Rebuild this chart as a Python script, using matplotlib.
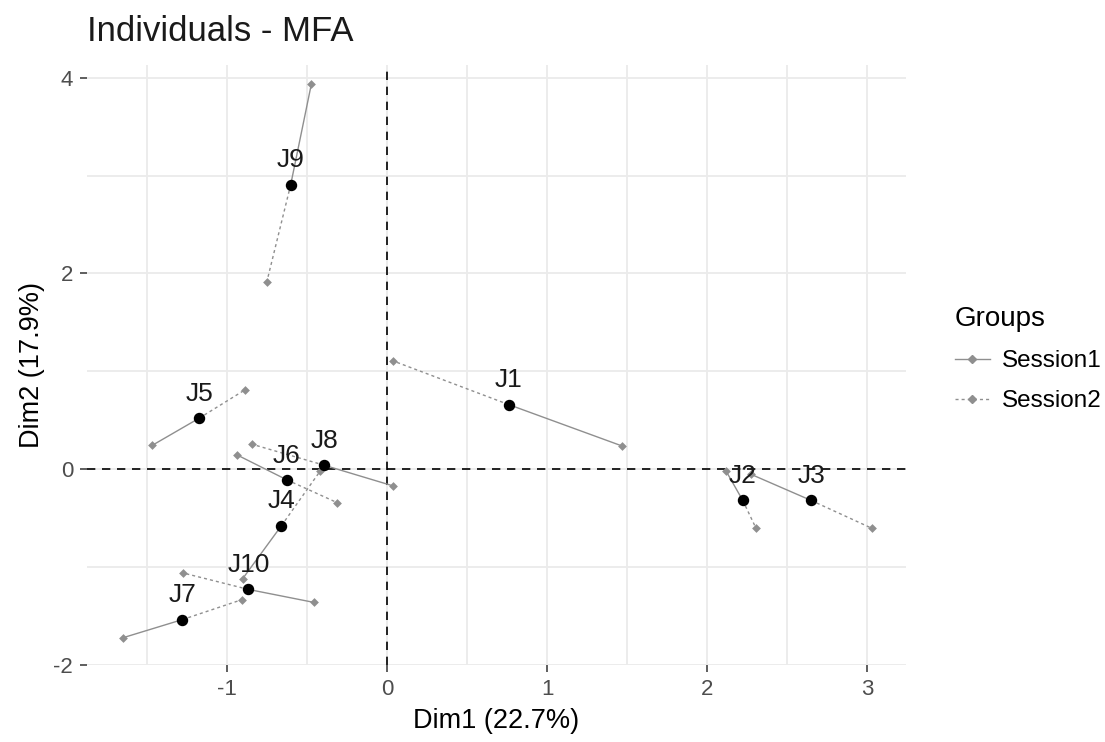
import numpy as np
import matplotlib
matplotlib.use("Agg")
import matplotlib.pyplot as plt
from matplotlib.lines import Line2D

plt.rcParams["font.family"] = ["Liberation Sans", "DejaVu Sans"]
plt.rcParams["axes.unicode_minus"] = False

labels = ["J1", "J2", "J3", "J4", "J5", "J6", "J7", "J8", "J9", "J10"]
center_x = [0.759, 2.224, 2.652, -0.662, -1.176, -0.627, -1.281, -0.394, -0.604, -0.868]
center_y = [0.661, -0.319, -0.319, -0.577, 0.522, -0.109, -1.536, 0.041, 2.906, -1.228]
s1_x = [1.470, 2.120, 2.273, -0.905, -1.470, -0.939, -1.654, 0.036, -0.474, -0.460]
s1_y = [0.237, -0.020, -0.050, -1.120, 0.244, 0.146, -1.722, -0.170, 3.940, -1.360]
s2_x = [0.033, 2.306, 3.031, -0.420, -0.887, -0.315, -0.910, -0.849, -0.753, -1.277]
s2_y = [1.109, -0.600, -0.603, -0.020, 0.814, -0.340, -1.333, 0.257, 1.916, -1.060]
groups = ["Session1", "Session2"]

grey = "#8f8f8f"
dash_s2 = (0, (2.2, 2.2))

fig = plt.figure(figsize=(11.05, 7.42), dpi=100)
ax = fig.add_axes([87 / 1105, 1 - 665 / 742, (906 - 87) / 1105, (665 - 65) / 742])

# reference lines
ax.axhline(0, color="black", linestyle=(0, (5, 4)), linewidth=1.2, zorder=2)
ax.axvline(0, color="black", linestyle=(0, (5, 4)), linewidth=1.2, zorder=2)

for i in range(len(labels)):
    ax.plot([center_x[i], s1_x[i]], [center_y[i], s1_y[i]], color=grey,
            linewidth=1.0, zorder=3)
    ax.plot([center_x[i], s2_x[i]], [center_y[i], s2_y[i]], color=grey,
            linewidth=1.0, linestyle=dash_s2, zorder=3)

ax.scatter(s1_x, s1_y, marker="D", s=20, color=grey, linewidths=0, zorder=4)
ax.scatter(s2_x, s2_y, marker="D", s=20, color=grey, linewidths=0, zorder=4)
ax.scatter(center_x, center_y, s=52, color="black", zorder=5)

for i, lab in enumerate(labels):
    ax.annotate(lab, (center_x[i], center_y[i]), xytext=(0, 12.5),
                textcoords="offset points", ha="center", va="baseline",
                fontsize=19, color="#1a1a1a", zorder=6)

ax.set_xlim(-1.878, 3.245)
ax.set_ylim(-1.99, 4.13)
ax.set_xticks([-1, 0, 1, 2, 3])
ax.set_yticks([-2, 0, 2, 4])
ax.set_xticks([-1.5, -0.5, 0.5, 1.5, 2.5], minor=True)
ax.set_yticks([-1, 1, 3], minor=True)
ax.grid(which="both", color="#ebebeb", linewidth=1.3, zorder=0)
ax.set_axisbelow(True)
for sp in ax.spines.values():
    sp.set_visible(False)
ax.tick_params(which="major", direction="out", length=5, width=1.1,
               color="#333333", labelcolor="#4d4d4d", labelsize=16, pad=5)
ax.tick_params(which="minor", length=0)

ax.set_xlabel("Dim1 (22.7%)", fontsize=19.5, color="black", labelpad=6)
ax.set_ylabel("Dim2 (17.9%)", fontsize=19.5, color="black", labelpad=6)
ax.set_title("Individuals - MFA", fontsize=25, loc="left", x=0.0, pad=17,
             color="#1a1a1a")

handles = [
    Line2D([0], [0], color=grey, linewidth=1.0, marker="D", markersize=4),
    Line2D([0], [0], color=grey, linewidth=1.0, marker="D", markersize=4,
           linestyle=dash_s2),
]
fig.legend(handles, groups, title="Groups", loc="upper left",
           bbox_to_anchor=(933 / 1105, 1 - 284 / 742), frameon=False,
           fontsize=17.5, title_fontsize=20, handlelength=1.45,
           handletextpad=0.5, labelspacing=0.75, alignment="left")

fig.savefig("out.png", dpi=100)
